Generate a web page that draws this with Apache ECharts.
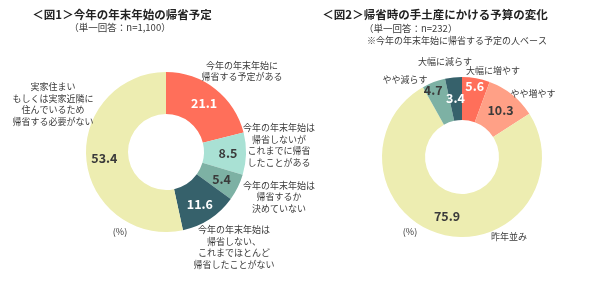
<!DOCTYPE html>
<html><head><meta charset="utf-8">
<script src="https://cdn.jsdelivr.net/npm/echarts@6/dist/echarts.min.js"></script>
<style>html,body{margin:0;padding:0;background:#fff}#c{width:600px;height:284px}</style>
</head><body><div id="c"></div>
<script>
// Chart 1
const title1 = "＜図1＞今年の年末年始の帰省予定";
const sub1 = "（単一回答：n=1,100）";
const cats1 = [
  "今年の年末年始に\n帰省する予定がある",
  "今年の年末年始は\n帰省しないが\nこれまでに帰省\nしたことがある",
  "今年の年末年始は\n帰省するか\n決めていない",
  "今年の年末年始は\n帰省しない、\nこれまでほとんど\n帰省したことがない",
  "実家住まい\nもしくは実家近隣に\n住んでいるため\n帰省する必要がない"
];
const vals1 = [21.1, 8.5, 5.4, 11.6, 53.4];
// Chart 2
const title2 = "＜図2＞帰省時の手土産にかける予算の変化";
const sub2a = "（単一回答：n=232）";
const sub2b = "※今年の年末年始に帰省する予定の人ベース";
const cats2 = ["大幅に増やす", "やや増やす", "昨年並み", "やや減らす", "大幅に減らす"];
const vals2 = [5.6, 10.3, 75.9, 4.7, 3.4];
const unitLabel = "(%)";

const colors1 = ["#FF6F5A", "#A9E1D4", "#7DB1A4", "#36616B", "#EDEDB1"];
const colors2 = ["#FF6F5A", "#FFA086", "#EDEDB1", "#7DB1A4", "#36616B"];
const lightText1 = [true, false, false, true, false];
const lightText2 = [true, false, false, false, true];

const FONT = "'Noto Sans CJK JP', 'Noto Sans', sans-serif";
const DARK = "#3a3a3a";

function valData(cats, vals, colors, light) {
  return vals.map((v, i) => ({
    name: cats[i], value: v,
    itemStyle: { color: colors[i] },
    label: { color: light[i] ? "#ffffff" : DARK }
  }));
}
function nameData(cats, vals) {
  return vals.map((v, i) => ({ name: cats[i], value: v }));
}

const namePos1 = [[242, 71], [279, 145], [279, 197], [234, 247], [53, 104]];
const namePos2 = [[493, 71], [533, 94], [509, 237], [405, 80], [445, 62]];
const valShift2 = [[2, -10], [0, 1], [0, 0], [-7, -9], [0, 2]];

const chart = echarts.init(document.getElementById('c'), null, { renderer: 'canvas' });
const valueLabel = { show: true, position: 'inside', fontFamily: FONT, fontSize: 12.5, fontWeight: 'bold', formatter: p => p.value.toFixed(1) };
const nameLabel = { show: true, position: 'outside', fontFamily: FONT, fontSize: 9, color: DARK, lineHeight: 11.5, align: 'center', formatter: '{b}' };

chart.setOption({
  animation: false,
  title: [
    { text: title1, left: 117, top: 4, textAlign: 'center', textStyle: { fontFamily: FONT, fontSize: 11.5, fontWeight: 'bold', color: '#222' } },
    { text: sub1, left: 115, top: 18, textAlign: 'center', textStyle: { fontFamily: FONT, fontSize: 9.5, fontWeight: 'normal', color: DARK } },
    { text: title2, left: 430, top: 4, textAlign: 'center', textStyle: { fontFamily: FONT, fontSize: 11.5, fontWeight: 'bold', color: '#222' } },
    { text: sub2a, left: 359, top: 19, textStyle: { fontFamily: FONT, fontSize: 9.5, fontWeight: 'normal', color: DARK } },
    { text: sub2b, left: 362, top: 31, textStyle: { fontFamily: FONT, fontSize: 9, fontWeight: 'normal', color: DARK } },
    { text: unitLabel, left: 115, top: 222, textAlign: 'center', textStyle: { fontFamily: FONT, fontSize: 9, fontWeight: 'normal', color: DARK } },
    { text: unitLabel, left: 405, top: 222, textAlign: 'center', textStyle: { fontFamily: FONT, fontSize: 9, fontWeight: 'normal', color: DARK } }
  ],
  series: [
    {
      type: 'pie', center: [166, 152], radius: [38, 80], startAngle: 90, clockwise: true,
      avoidLabelOverlap: false, silent: true,
      label: valueLabel, labelLine: { show: false },
      data: valData(cats1, vals1, colors1, lightText1)
    },
    {
      type: 'pie', center: [166, 152], radius: [38, 80], startAngle: 90, clockwise: true,
      avoidLabelOverlap: false, silent: true,
      itemStyle: { color: 'rgba(0,0,0,0)' },
      label: nameLabel, labelLine: { show: false },
      labelLayout: p => ({ x: namePos1[p.dataIndex][0], y: namePos1[p.dataIndex][1], align: 'center', verticalAlign: 'middle' }),
      data: nameData(cats1, vals1)
    },
    {
      type: 'pie', center: [462, 157], radius: [37, 80], startAngle: 90, clockwise: true,
      avoidLabelOverlap: false, silent: true,
      label: valueLabel, labelLine: { show: false },
      labelLayout: p => ({ dx: valShift2[p.dataIndex][0], dy: valShift2[p.dataIndex][1] }),
      data: valData(cats2, vals2, colors2, lightText2)
    },
    {
      type: 'pie', center: [462, 157], radius: [37, 80], startAngle: 90, clockwise: true,
      avoidLabelOverlap: false, silent: true,
      itemStyle: { color: 'rgba(0,0,0,0)' },
      label: nameLabel, labelLine: { show: false },
      labelLayout: p => ({ x: namePos2[p.dataIndex][0], y: namePos2[p.dataIndex][1], align: 'center', verticalAlign: 'middle' }),
      data: nameData(cats2, vals2)
    }
  ]
});
</script></body></html>
